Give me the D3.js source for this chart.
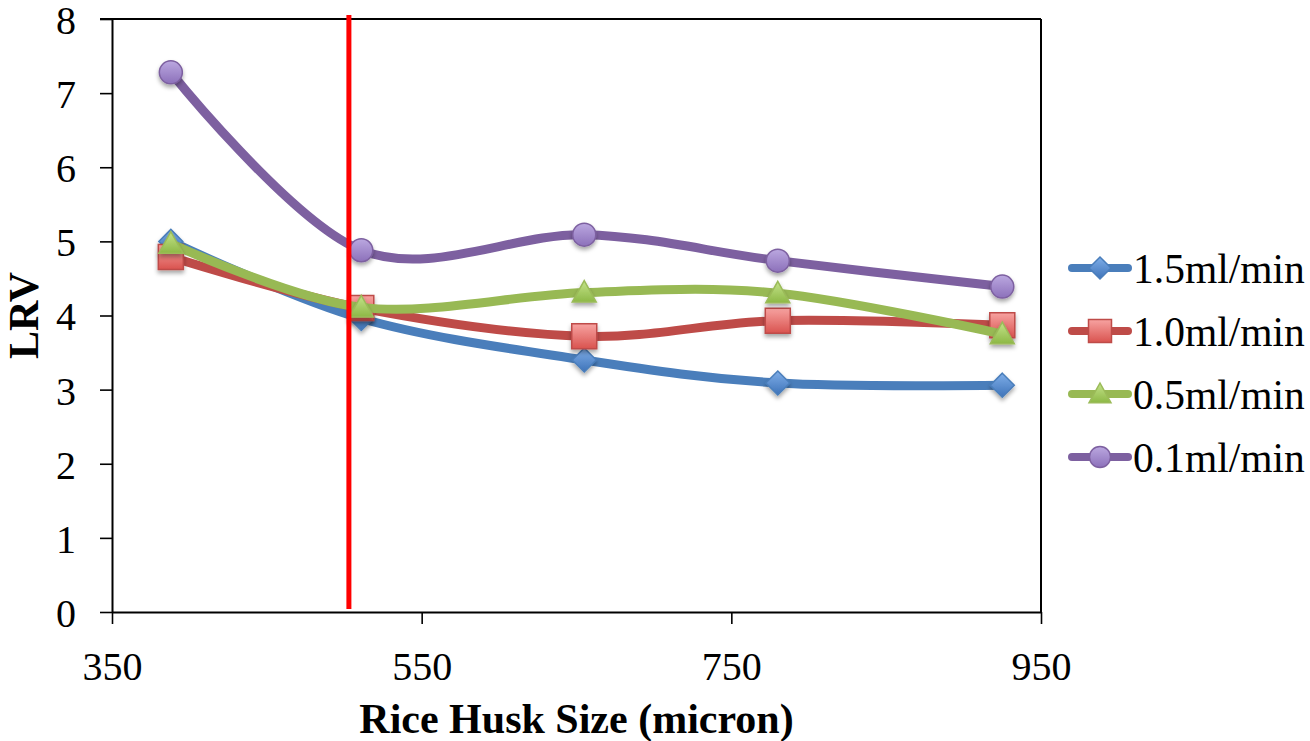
<!DOCTYPE html>
<html>
<head>
<meta charset="utf-8">
<script src="https://cdn.jsdelivr.net/npm/d3@7"></script>
<style>
  html, body { margin: 0; padding: 0; background: #ffffff; }
  svg { display: block; }
  text { font-family: "Liberation Serif", "Times New Roman", serif; fill: #000; }
</style>
</head>
<body>
<svg id="chart" width="1310" height="741"></svg>
<script>
// Rice husk particle size (micron) for each filter bed
const huskSizes = [388, 511, 655, 780, 925];

// Log reduction values for each flow rate
const seriesNames = ["1.5ml/min", "1.0ml/min", "0.5ml/min", "0.1ml/min"];
const lrvFlow15 = [5.00, 3.96, 3.40, 3.09, 3.06];
const lrvFlow10 = [4.79, 4.10, 3.72, 3.93, 3.87];
const lrvFlow05 = [4.97, 4.11, 4.31, 4.30, 3.75];
const lrvFlow01 = [7.28, 4.88, 5.09, 4.74, 4.39];

// Axis ticks
const xTickValues = [350, 550, 750, 950];
const yTickValues = [0, 1, 2, 3, 4, 5, 6, 7, 8];

// Reference size marked with a vertical line
const cutoffSize = 503;

const seriesValues = [lrvFlow15, lrvFlow10, lrvFlow05, lrvFlow01];

const styles = [
  { line: "#4A7EBB", stroke: "#4A7EBB", top: "#7FAEE8", bottom: "#3E73B9", shape: "diamond", size: 24 },
  { line: "#BE4B48", stroke: "#BE4B48", top: "#F7A3A1", bottom: "#D9534F", shape: "square", size: 25 },
  { line: "#98B954", stroke: "#9BBB59", top: "#C4E38A", bottom: "#8DB846", shape: "triangle", size: 24 },
  { line: "#7D60A0", stroke: "#7D60A0", top: "#BBA8E0", bottom: "#8C70BA", shape: "circle", size: 23 }
];

const svg = d3.select("#chart");
const plotLeft = 112, plotRight = 1041, plotTop = 19, plotBottom = 612;

const x = d3.scaleLinear().domain([350, 950]).range([plotLeft, plotRight]);
const y = d3.scaleLinear().domain([0, 8]).range([plotBottom, plotTop]);

const defs = svg.append("defs");
const shadow = defs.append("filter").attr("id", "markerShadow")
  .attr("x", "-50%").attr("y", "-50%").attr("width", "200%").attr("height", "200%");
shadow.append("feDropShadow").attr("dx", 0).attr("dy", 3).attr("stdDeviation", 2)
  .attr("flood-color", "#000").attr("flood-opacity", 0.35);

styles.forEach((s, i) => {
  const g = defs.append("linearGradient").attr("id", "grad" + i)
    .attr("x1", 0).attr("y1", 0).attr("x2", 0).attr("y2", 1);
  g.append("stop").attr("offset", "0%").attr("stop-color", s.top);
  g.append("stop").attr("offset", "100%").attr("stop-color", s.bottom);
});

function markerPath(shape, size) {
  const h = size / 2;
  if (shape === "diamond") return `M0,${-h}L${h},0L0,${h}L${-h},0Z`;
  if (shape === "square") return `M${-h},${-h}H${h}V${h}H${-h}Z`;
  if (shape === "triangle") return `M0,${-h}L${h},${h * 0.8}L${-h},${h * 0.8}Z`;
  return d3.arc()({ innerRadius: 0, outerRadius: h, startAngle: 0, endAngle: 2 * Math.PI });
}

// Plot frame (top and right edges)
svg.append("line").attr("x1", plotLeft - 12).attr("x2", plotRight).attr("y1", plotTop).attr("y2", plotTop)
  .attr("stroke", "#000").attr("stroke-width", 2);
svg.append("line").attr("x1", plotRight).attr("x2", plotRight).attr("y1", plotTop).attr("y2", plotBottom)
  .attr("stroke", "#000").attr("stroke-width", 2);

// Axes
const yAxis = svg.append("g").attr("transform", `translate(${plotLeft},0)`)
  .call(d3.axisLeft(y).tickValues(yTickValues).tickSize(12).tickSizeOuter(0).tickPadding(24).tickFormat(d3.format("d")));
const xAxis = svg.append("g").attr("transform", `translate(0,${plotBottom})`)
  .call(d3.axisBottom(x).tickValues(xTickValues).tickSize(12).tickSizeOuter(0).tickPadding(28).tickFormat(d3.format("d")));

[yAxis, xAxis].forEach(a => {
  a.select(".domain").attr("stroke", "#000").attr("stroke-width", 2);
  a.selectAll(".tick line").attr("stroke", "#000").attr("stroke-width", 1.6);
  a.selectAll(".tick text").attr("font-size", 40)
    .attr("font-family", "'Liberation Serif', 'Times New Roman', serif");
});
yAxis.selectAll(".tick text").attr("dy", "0.36em");
xAxis.selectAll(".tick text").attr("dy", "0.71em");

// Axis titles
svg.append("text").attr("x", (plotLeft + plotRight) / 2).attr("y", 733)
  .attr("text-anchor", "middle").attr("font-size", 42).attr("font-weight", "bold")
  .text("Rice Husk Size (micron)");
svg.append("text").attr("transform", `translate(38,${(plotTop + plotBottom) / 2}) rotate(-90)`)
  .attr("text-anchor", "middle").attr("font-size", 42).attr("font-weight", "bold")
  .text("LRV");

// Smoothed series lines with markers
const line = d3.line().x(d => x(d[0])).y(d => y(d[1])).curve(d3.curveCardinal.tension(0));

seriesValues.forEach((vals, i) => {
  const s = styles[i];
  const pts = huskSizes.map((h, j) => [h, vals[j]]);
  const g = svg.append("g");
  g.append("path").attr("d", line(pts)).attr("fill", "none")
    .attr("stroke", s.line).attr("stroke-width", 9).attr("stroke-linecap", "round").attr("stroke-linejoin", "round");
  g.selectAll("path.marker").data(pts).join("path").attr("class", "marker")
    .attr("d", markerPath(s.shape, s.size))
    .attr("transform", d => `translate(${x(d[0])},${y(d[1])})`)
    .attr("fill", `url(#grad${i})`).attr("stroke", s.stroke).attr("stroke-width", 1.5)
    .attr("filter", "url(#markerShadow)");
});

// Vertical reference line
svg.append("line").attr("x1", x(cutoffSize)).attr("x2", x(cutoffSize))
  .attr("y1", plotTop - 4).attr("y2", plotBottom - 3)
  .attr("stroke", "#FF0000").attr("stroke-width", 5);

// Legend
const legend = svg.append("g");
seriesNames.forEach((name, i) => {
  const s = styles[i];
  const cy = 268 + i * 63;
  const item = legend.append("g");
  item.append("line").attr("x1", 1072).attr("x2", 1128).attr("y1", cy).attr("y2", cy)
    .attr("stroke", s.line).attr("stroke-width", 8).attr("stroke-linecap", "round");
  item.append("path").attr("d", markerPath(s.shape, s.size - 2))
    .attr("transform", `translate(1100,${cy})`)
    .attr("fill", `url(#grad${i})`).attr("stroke", s.stroke).attr("stroke-width", 1.5);
  item.append("text").attr("x", 1133).attr("y", cy + 15).attr("font-size", 41.5).text(name);
});
</script>
</body>
</html>
